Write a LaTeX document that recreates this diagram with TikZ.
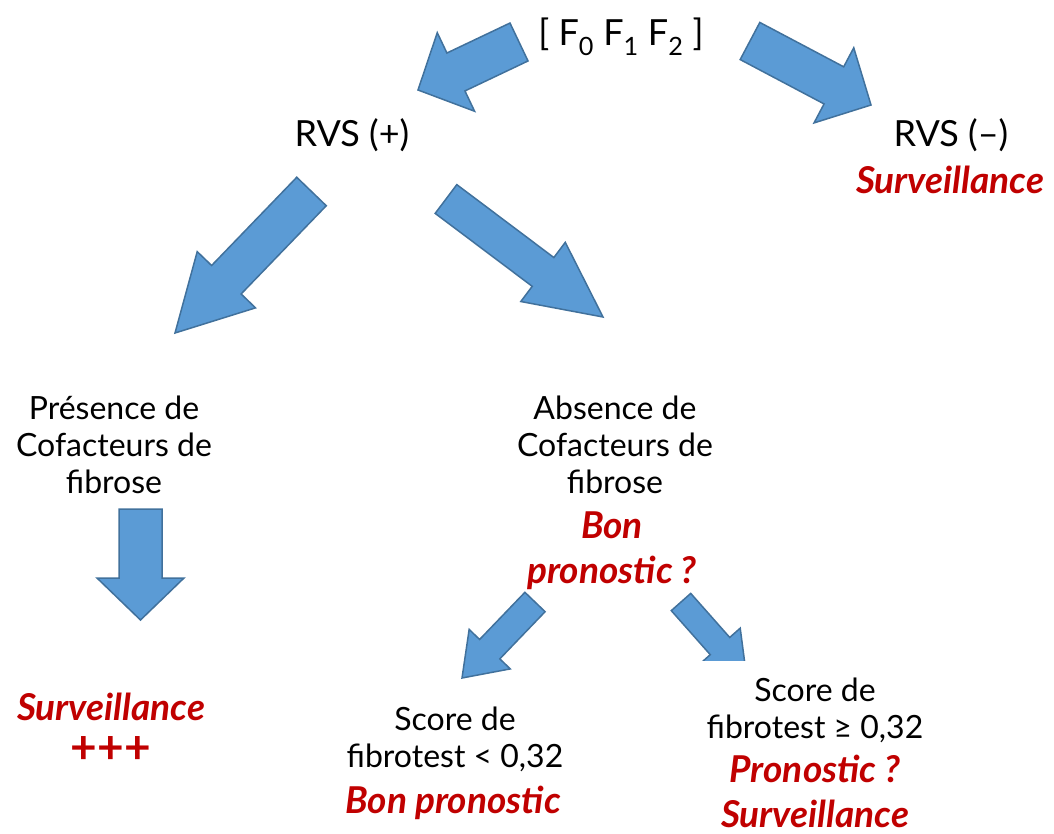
\documentclass[tikz,border=0pt]{standalone}
\usepackage{fontspec}
\setmainfont{Lato}
\usetikzlibrary{calc}
\definecolor{arrowblue}{HTML}{5B9BD5}
\definecolor{arrowedge}{HTML}{41719C}
\definecolor{darkred}{HTML}{C00000}
\tikzset{
  blockarrow/.style={fill=arrowblue, draw=arrowedge, line width=1.5pt, line join=miter},
  txt/.style={align=center, inner sep=0pt, font=\fontsize{32}{37}\selectfont},
  bigtxt/.style={align=center, inner sep=0pt, font=\fontsize{36}{40}\selectfont},
  warn/.style={align=center, inner sep=0pt, text=darkred,
    font=\bfseries\itshape\fontsize{37}{45}\selectfont},
}
% fat arrow: tail, tip, half shaft, half head, head length
\newcommand{\bigarrow}[5]{%
  \coordinate (neck) at ($(#2)!#5!(#1)$);
  \filldraw[blockarrow] ($(#1)!#3!90:(#2)$) -- ($(neck)!#3!90:(#2)$)
    -- ($(neck)!#4!90:(#2)$) -- (#2) -- ($(neck)!#4!-90:(#2)$)
    -- ($(neck)!#3!-90:(#2)$) -- ($(#1)!#3!-90:(#2)$) -- cycle;
}

\begin{document}
\begin{tikzpicture}[x=1pt, y=-1pt]
\useasboundingbox (0,0) rectangle (1054,833);

\node[bigtxt] (stage) at (621,37) {[ F\textsubscript{0} F\textsubscript{1} F\textsubscript{2} ]};
\node[bigtxt] (rvs-pos) at (352,135) {RVS (+)};
\node[bigtxt] (rvs-neg) at (951,135) {RVS (–)};
\node[warn] (rvs-neg-w) at (950,180) {Surveillance};

\node[txt] (cof-yes) at (114,445) {Présence de\\Cofacteurs de\\fibrose};
\node[txt] (cof-no) at (615,445) {Absence de\\Cofacteurs de\\fibrose};
\node[warn] (cof-no-w) at (612,551) {Bon\\pronostic ?};
\node[warn] (cof-yes-w) at (111,707) {Surveillance};
\node[warn, font=\bfseries\fontsize{46}{46}\selectfont] (plus) at (111,750) {+++};

\node[txt] (fib-low) at (455,739) {Score de\\fibrotest < 0,32};
\node[warn] (fib-low-w) at (453,803) {Bon pronostic};
\node[txt] (fib-high) at (815,710) {Score de\\fibrotest ≥ 0,32};
\node[warn] (fib-high-w) at (815,791) {Pronostic ?\\Surveillance};

\coordinate (a1-s) at (519,42);    \coordinate (a1-e) at (418,90);
\coordinate (a2-s) at (750,41);    \coordinate (a2-e) at (871,105);
\coordinate (a3-s) at (311.5,191.5); \coordinate (a3-e) at (175,333);
\coordinate (a4-s) at (446,199);   \coordinate (a4-e) at (603,317);
\coordinate (a5-s) at (140.5,509); \coordinate (a5-e) at (140.5,620);
\coordinate (a6-s) at (535,602);   \coordinate (a6-e) at (462,678);
\coordinate (a7-s) at (681,602);   \coordinate (a7-e) at (746.5,676);

\bigarrow{a1-s}{a1-e}{21pt}{43.5pt}{42pt}
\bigarrow{a2-s}{a2-e}{21pt}{42.5pt}{42pt}
\bigarrow{a3-s}{a3-e}{20.5pt}{40.5pt}{74pt}
\bigarrow{a4-s}{a4-e}{18pt}{37pt}{75pt}
\bigarrow{a5-s}{a5-e}{21.5pt}{43.5pt}{42pt}
\bigarrow{a6-s}{a6-e}{14pt}{28.5pt}{40pt}
\begin{scope}
  \clip (600,560) rectangle (800,660);
  \bigarrow{a7-s}{a7-e}{13pt}{27pt}{40pt}
\end{scope}
\end{tikzpicture}
\end{document}
